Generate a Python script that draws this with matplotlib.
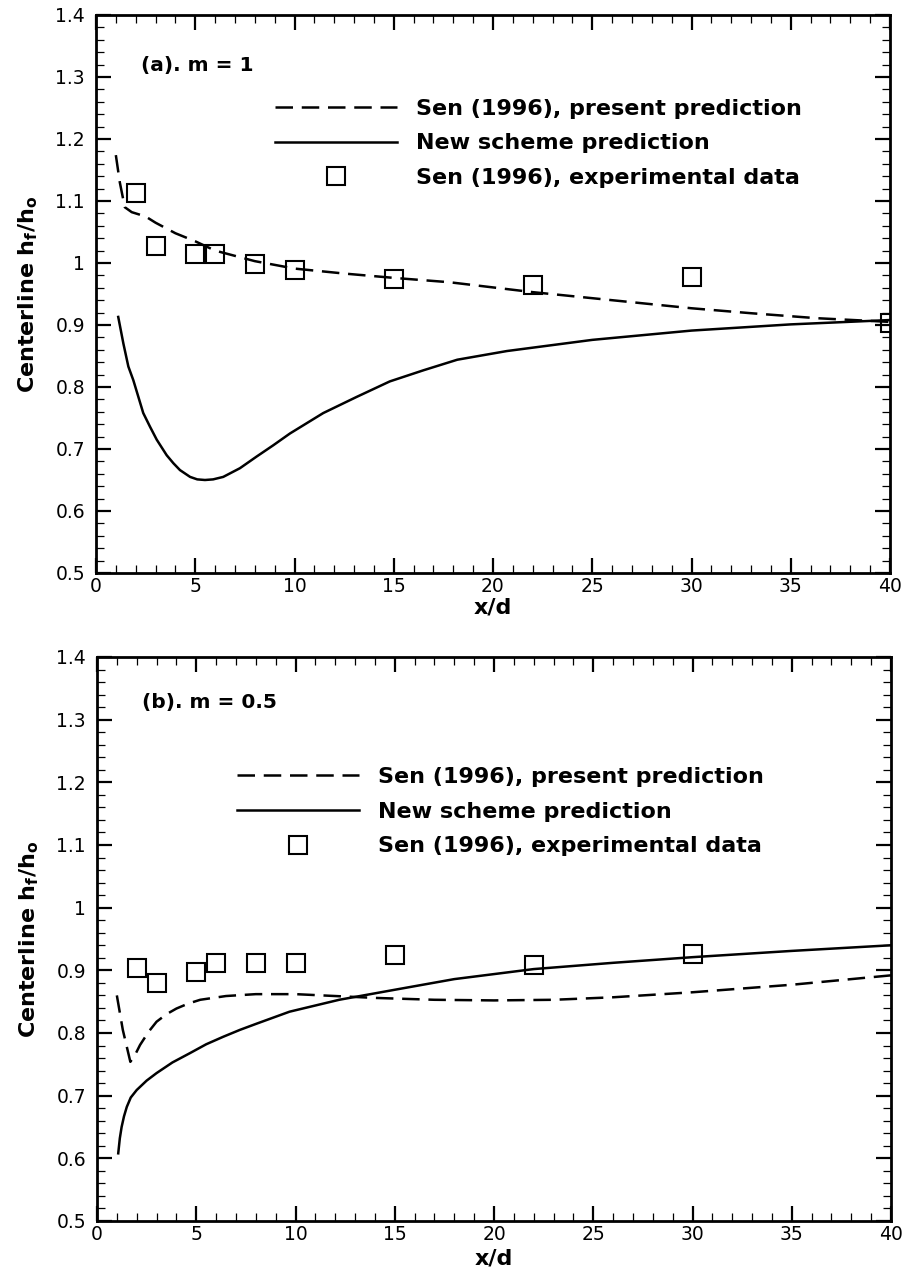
import matplotlib
matplotlib.use('Agg')
import matplotlib.pyplot as plt
from matplotlib.ticker import MultipleLocator, FuncFormatter

plt.rcParams['font.family'] = ['DejaVu Sans']
plt.rcParams['mathtext.fontset'] = 'custom'
plt.rcParams['mathtext.rm'] = 'DejaVu Sans:bold'
plt.rcParams['mathtext.it'] = 'DejaVu Sans:bold'
plt.rcParams['mathtext.bf'] = 'DejaVu Sans:bold'

# ---------------- Panel (a): m = 1 ----------------
sen_pred_a_x = [1.0, 1.2, 1.45, 1.8, 2.5, 3.0, 4.0, 5.0, 6.0, 8.0, 10.0, 12.5, 15.0,
                17.8, 22.0, 26.0, 30.0, 33.0, 36.3, 40.0]
sen_pred_a_y = [1.174, 1.13, 1.09, 1.082, 1.075, 1.065, 1.048, 1.035, 1.020, 1.003,
                0.991, 0.983, 0.976, 0.969, 0.953, 0.940, 0.927, 0.919, 0.911, 0.905]

new_pred_a_x = [1.12, 1.38, 1.63, 1.88, 2.38, 2.72, 3.06, 3.56, 3.9, 4.23, 4.74, 5.1,
                5.49, 5.9, 6.41, 7.25, 8.1, 8.93, 9.77, 11.45, 13.13, 14.8, 16.5, 18.2,
                20.7, 25.0, 30.0, 35.0, 40.0]
new_pred_a_y = [0.913, 0.870, 0.833, 0.811, 0.758, 0.736, 0.715, 0.690, 0.677, 0.666,
                0.655, 0.651, 0.650, 0.651, 0.655, 0.669, 0.688, 0.706, 0.725, 0.758,
                0.784, 0.809, 0.827, 0.844, 0.858, 0.876, 0.891, 0.901, 0.908]

exp_a_x = [2, 3, 5, 6, 8, 10, 15, 22, 30, 40]
exp_a_y = [1.113, 1.027, 1.015, 1.014, 0.999, 0.989, 0.974, 0.964, 0.977, 0.904]

# ---------------- Panel (b): m = 0.5 ----------------
sen_pred_b_x = [1.0, 1.3, 1.68, 1.9, 2.17, 2.6, 3.0, 3.5, 4.0, 4.6, 5.2, 6.5, 8.0, 10.0,
                12.0, 14.0, 17.0, 20.0, 23.0, 26.0, 30.0, 35.0, 40.0]
sen_pred_b_y = [0.860, 0.805, 0.754, 0.764, 0.781, 0.802, 0.818, 0.830, 0.839, 0.847,
                0.853, 0.859, 0.862, 0.862, 0.859, 0.856, 0.853, 0.852, 0.853, 0.857,
                0.865, 0.877, 0.892]

new_pred_b_x = [1.07, 1.15, 1.24, 1.36, 1.5, 1.7, 2.0, 2.5, 3.0, 3.8, 4.69, 5.5, 6.36,
                7.2, 8.05, 9.7, 12.2, 15.0, 18.0, 22.0, 26.0, 30.0, 35.0, 40.0]
new_pred_b_y = [0.608, 0.632, 0.650, 0.667, 0.682, 0.697, 0.709, 0.724, 0.736, 0.753,
                0.768, 0.782, 0.794, 0.805, 0.815, 0.834, 0.853, 0.869, 0.886, 0.902,
                0.912, 0.921, 0.931, 0.940]

exp_b_x = [2, 3, 5, 6, 8, 10, 15, 22, 30]
exp_b_y = [0.903, 0.879, 0.898, 0.911, 0.912, 0.912, 0.924, 0.908, 0.926]

labels = ['Sen (1996), present prediction', 'New scheme prediction',
          'Sen (1996), experimental data']
panel_titles = ['(a). m = 1', '(b). m = 0.5']
xlabel = 'x/d'
ylabel = r'Centerline h$_\mathrm{f}$/h$_\mathrm{o}$'

W, H = 909, 1272
fig = plt.figure(figsize=(W / 100, H / 100), dpi=100)
ax1 = fig.add_axes([96 / W, 1 - 573 / H, 794 / W, 558 / H])
ax2 = fig.add_axes([97 / W, 1 - 1221 / H, 794 / W, 564 / H])

fmt = FuncFormatter(lambda v, p: '%g' % round(v, 3))


def style(ax, xpad):
    ax.set_xlim(0, 40)
    ax.set_ylim(0.5, 1.4)
    ax.xaxis.set_major_locator(MultipleLocator(5))
    ax.xaxis.set_minor_locator(MultipleLocator(1))
    ax.yaxis.set_major_locator(MultipleLocator(0.1))
    ax.yaxis.set_minor_locator(MultipleLocator(0.02))
    ax.xaxis.set_major_formatter(fmt)
    ax.yaxis.set_major_formatter(fmt)
    ax.tick_params(which='both', direction='in', top=True, right=True, colors='black')
    ax.tick_params(which='major', length=11, width=1.6, labelsize=13.5)
    ax.tick_params(which='minor', length=6, width=0.9)
    ax.tick_params(axis='y', which='major', pad=8)
    ax.tick_params(axis='x', which='major', pad=3)
    for s in ax.spines.values():
        s.set_linewidth(2.0)
    ax.set_xlabel(xlabel, fontsize=16, fontweight='bold', labelpad=xpad)
    ax.set_ylabel(ylabel, fontsize=16, fontweight='bold')
    ax.yaxis.set_label_coords(-0.071, 0.5)


dash = (7, 3.5)
mk = dict(marker='s', ms=13.5, mfc='none', mec='black', mew=1.5, ls='none')

for ax, (sx, sy, nx, ny, ex, ey), title, ty, lpos, xpad in [
        (ax1, (sen_pred_a_x, sen_pred_a_y, new_pred_a_x, new_pred_a_y, exp_a_x, exp_a_y),
         panel_titles[0], 0.910, (0.225, 0.850), 1.0),
        (ax2, (sen_pred_b_x, sen_pred_b_y, new_pred_b_x, new_pred_b_y, exp_b_x, exp_b_y),
         panel_titles[1], 0.920, (0.176, 0.805), 3.0)]:
    style(ax, xpad)
    l1, = ax.plot(sx, sy, color='black', lw=1.8, dashes=dash, label=labels[0])
    l2, = ax.plot(nx, ny, color='black', lw=1.8, label=labels[1])
    l3, = ax.plot(ex, ey, label=labels[2], **mk)
    ax.text(0.057, ty, title, transform=ax.transAxes, fontsize=14.5,
            fontweight='bold', va='center', ha='left')
    ax.legend(handles=[l1, l2, l3], loc='upper left', bbox_to_anchor=lpos,
              frameon=False, borderpad=0, borderaxespad=0, handlelength=5.5,
              handletextpad=0.85, labelspacing=0.66,
              prop={'size': 16, 'weight': 'bold'})

fig.savefig('out.png', dpi=100)
